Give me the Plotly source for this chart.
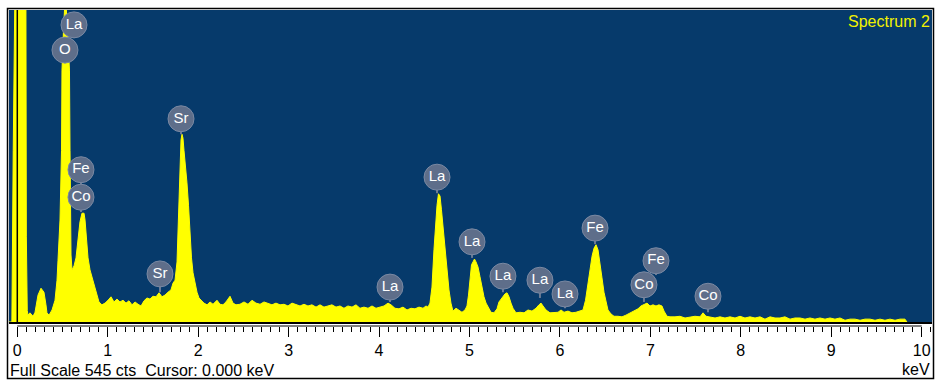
import plotly.graph_objects as go

# ---------------- data ----------------
energy_kev = [
    -0.092, -0.060, -0.045, -0.025, 0.095, 0.100, 0.110, 0.118, 0.140, 0.174,
    0.196, 0.229, 0.262, 0.295, 0.317, 0.328, 0.351, 0.384, 0.417, 0.439,
    0.450, 0.472, 0.489, 0.494, 0.511, 0.527, 0.538, 0.555, 0.577, 0.583,
    0.588, 0.594, 0.605, 0.627, 0.649, 0.671, 0.693, 0.715, 0.738, 0.749,
    0.760, 0.782, 0.804, 0.837, 0.870, 0.903, 0.936, 0.970, 1.003, 1.036,
    1.069, 1.102, 1.135, 1.169, 1.202, 1.235, 1.268, 1.302, 1.335, 1.368,
    1.401, 1.434, 1.467, 1.500, 1.534, 1.567, 1.600, 1.633, 1.666, 1.699,
    1.722, 1.744, 1.766, 1.777, 1.788, 1.799, 1.810, 1.821, 1.832, 1.843,
    1.860, 1.876, 1.893, 1.910, 1.926, 1.943, 1.965, 1.987, 2.009, 2.031,
    2.064, 2.098, 2.131, 2.164, 2.208, 2.241, 2.274, 2.307, 2.352, 2.385,
    2.418, 2.462, 2.507, 2.551, 2.595, 2.639, 2.684, 2.728, 2.772, 2.816,
    2.860, 2.905, 2.949, 2.993, 3.037, 3.081, 3.126, 3.170, 3.214, 3.258,
    3.303, 3.347, 3.391, 3.435, 3.479, 3.524, 3.568, 3.612, 3.656, 3.701,
    3.745, 3.789, 3.833, 3.878, 3.922, 3.966, 4.010, 4.055, 4.099, 4.132,
    4.176, 4.220, 4.265, 4.309, 4.353, 4.397, 4.442, 4.486, 4.519, 4.541,
    4.563, 4.585, 4.607, 4.624, 4.641, 4.657, 4.674, 4.690, 4.707, 4.729,
    4.751, 4.773, 4.795, 4.817, 4.851, 4.884, 4.917, 4.950, 4.972, 4.989,
    5.006, 5.022, 5.039, 5.055, 5.072, 5.094, 5.116, 5.138, 5.160, 5.183,
    5.205, 5.238, 5.271, 5.304, 5.326, 5.359, 5.392, 5.415, 5.437, 5.459,
    5.481, 5.514, 5.558, 5.603, 5.647, 5.691, 5.735, 5.768, 5.791, 5.813,
    5.846, 5.890, 5.934, 5.979, 6.012, 6.045, 6.089, 6.133, 6.177, 6.222,
    6.255, 6.283, 6.310, 6.332, 6.355, 6.377, 6.399, 6.421, 6.443, 6.465,
    6.487, 6.509, 6.531, 6.565, 6.598, 6.642, 6.686, 6.730, 6.775, 6.819,
    6.863, 6.896, 6.929, 6.963, 6.996, 7.029, 7.062, 7.095, 7.128, 7.151,
    7.184, 7.217, 7.272, 7.327, 7.383, 7.438, 7.493, 7.549, 7.582, 7.615,
    7.659, 7.715, 7.770, 7.825, 7.880, 7.936, 7.991, 8.046, 8.101, 8.157,
    8.212, 8.267, 8.323, 8.378, 8.433, 8.488, 8.544, 8.599, 8.654, 8.710,
    8.765, 8.820, 8.875, 8.931, 8.986, 9.041, 9.097, 9.152, 9.207, 9.262,
    9.318, 9.373, 9.428, 9.484, 9.539, 9.594, 9.649, 9.705, 9.760, 9.815,
    9.837,
]
counts = [
    0, 0, 300, 600, 600, 150, 20, 12, 16, 10,
    17, 47, 59, 52, 30, 16, 12, 21, 38, 73,
    108, 178, 300, 440, 510, 560, 560, 510, 440, 300,
    178, 117, 91, 98, 112, 143, 175, 190, 190, 178,
    152, 112, 91, 73, 52, 35, 30, 33, 38, 44,
    35, 40, 35, 38, 33, 37, 30, 35, 31, 28,
    37, 42, 40, 45, 44, 51, 44, 47, 52, 56,
    68, 73, 105, 155, 222, 278, 318, 328, 321, 300,
    274, 243, 204, 143, 112, 86, 65, 52, 42, 38,
    33, 30, 35, 31, 38, 31, 30, 35, 45, 33,
    30, 31, 35, 31, 38, 33, 31, 35, 33, 30,
    33, 30, 31, 28, 33, 30, 28, 31, 28, 30,
    26, 30, 26, 28, 30, 26, 28, 24, 28, 26,
    30, 24, 26, 24, 28, 24, 26, 28, 33, 30,
    24, 23, 26, 21, 24, 23, 26, 24, 28, 26,
    33, 61, 126, 169, 204, 224, 220, 196, 166, 126,
    91, 56, 33, 19, 24, 21, 17, 21, 28, 47,
    77, 100, 105, 110, 105, 96, 79, 61, 44, 33,
    26, 17, 16, 23, 35, 42, 49, 51, 44, 33,
    24, 16, 17, 16, 21, 19, 24, 30, 33, 28,
    21, 16, 17, 17, 21, 17, 19, 16, 17, 19,
    21, 38, 65, 94, 115, 129, 135, 126, 105, 77,
    52, 33, 21, 14, 10, 10, 9, 12, 16, 19,
    23, 28, 30, 33, 28, 30, 28, 30, 28, 19,
    10, 9, 9, 10, 7, 9, 10, 9, 16, 10,
    9, 7, 9, 7, 9, 7, 10, 7, 9, 7,
    9, 5, 9, 7, 7, 9, 5, 7, 7, 5,
    7, 5, 7, 5, 7, 5, 7, 3, 5, 5,
    3, 5, 5, 3, 5, 3, 5, 3, 5, 5,
    0,
]

tick_values = [0, 1, 2, 3, 4, 5, 6, 7, 8, 9, 10]
tick_labels = ["0", "1", "2", "3", "4", "5", "6", "7", "8", "9", "10"]

label_names = ["La", "O", "Fe", "Co", "Sr", "Sr", "La", "La", "La", "La",
               "La", "La", "Fe", "Co", "Fe", "Co"]
label_kev = [0.627, 0.527, 0.704, 0.704, 1.810, 1.578, 4.121, 4.641, 5.028, 5.370,
             5.779, 6.056, 6.388, 6.929, 7.062, 7.637]
label_cts = [519, 475, 266, 218, 355, 84, 61, 253, 140, 80,
             73, 49, 164, 65, 107, 45]
stem_cts = [496, 452, 239, 192, 328, 52, 35, 225, 112, 52,
            42, 24, 136, 35, 82, 17]

full_scale_cts = 545
spectrum_name = "Spectrum 2"
status_text = "Full Scale 545 cts  Cursor: 0.000 keV"
unit_text = "keV"

# ---------------- layout geometry ----------------
W, H = 935, 382
ML, MR, MT, MB = 9, 3, 10, 56
PW, PH = W - ML - MR, H - MT - MB
PX_PER_KEV = 90.44
X0_PX = 17.3
x_range = [(ML - X0_PX) / PX_PER_KEV, (W - MR - X0_PX) / PX_PER_KEV]
cts_per_px = full_scale_cts / 312.0
y_range = [-4 * cts_per_px, full_scale_cts]


def py(p):  # pixel row -> paper y
    return (H - MB - p) / PH


def px(p):  # pixel col -> paper x
    return (p - ML) / PW


BLUE = "#063a6b"
YELLOW = "#ffff00"
LABEL_FILL = "#5e6e8a"
FONT = "Liberation Sans, Arial, sans-serif"

fig = go.Figure()

fig.add_trace(go.Scatter(
    x=energy_kev, y=counts, mode="lines",
    line=dict(color=YELLOW, width=1), fill="tozeroy", fillcolor=YELLOW,
    hoverinfo="skip", showlegend=False))

stem_x, stem_y = [], []
for e, top, bot in zip(label_kev, label_cts, stem_cts):
    stem_x += [e, e, None]
    stem_y += [top, bot, None]
fig.add_trace(go.Scatter(
    x=stem_x, y=stem_y, mode="lines", line=dict(color="#6a7a94", width=2),
    hoverinfo="skip", showlegend=False))

fig.add_trace(go.Scatter(
    x=label_kev, y=label_cts, mode="markers+text", text=label_names,
    textposition="middle center",
    textfont=dict(family=FONT, size=15, color="white"),
    marker=dict(size=26, color=LABEL_FILL, line=dict(color="#7a89a3", width=1)),
    hoverinfo="skip", showlegend=False, cliponaxis=False))

shapes = [
    dict(type="rect", xref="paper", yref="paper", x0=0, x1=1, y0=py(322), y1=1,
         fillcolor=BLUE, line=dict(width=0), layer="below"),
    dict(type="line", xref="x", yref="paper", x0=0, x1=0, y0=py(322), y1=1,
         line=dict(color="black", width=1.5), layer="above"),
    dict(type="line", xref="paper", yref="paper", x0=0, x1=1, y0=py(323), y1=py(323),
         line=dict(color="black", width=2), layer="above"),
    dict(type="line", xref="x", yref="paper", x0=0, x1=10, y0=0, y1=0,
         line=dict(color="black", width=1), layer="above"),
    dict(type="rect", xref="paper", yref="paper", x0=px(7.5), x1=px(933.5),
         y0=py(378.5), y1=py(8.5), line=dict(color="black", width=1.5),
         fillcolor="rgba(0,0,0,0)", layer="above"),
]

annotations = [
    dict(text=spectrum_name, xref="paper", yref="paper", x=px(932), y=py(22),
         xanchor="right", yanchor="middle", showarrow=False,
         font=dict(family=FONT, size=16, color="#f2f200")),
    dict(text=status_text, xref="paper", yref="paper", x=px(8), y=py(370),
         xanchor="left", yanchor="middle", showarrow=False,
         font=dict(family=FONT, size=16, color="black")),
    dict(text=unit_text, xref="paper", yref="paper", x=px(932), y=py(369),
         xanchor="right", yanchor="middle", showarrow=False,
         font=dict(family=FONT, size=16, color="black")),
]

fig.update_layout(
    width=W, height=H,
    margin=dict(l=ML, r=MR, t=MT, b=MB, pad=0),
    paper_bgcolor="white", plot_bgcolor="white",
    shapes=shapes, annotations=annotations, showlegend=False,
    xaxis=dict(range=x_range, tickvals=tick_values, ticktext=tick_labels,
               ticks="outside", ticklen=10, tickwidth=1, tickcolor="black",
               minor=dict(dtick=0.1, tick0=0, ticks="outside", ticklen=5,
                          tickwidth=1, tickcolor="black", showgrid=False),
               showgrid=False, zeroline=False, showline=False,
               tickfont=dict(family=FONT, size=16, color="black"),
               fixedrange=True),
    yaxis=dict(range=y_range, visible=False, showgrid=False, zeroline=False,
               fixedrange=True),
)

fig.write_html(
    "out.html",
    config={"displayModeBar": False},
    post_script="document.body.style.margin='0';document.body.style.overflow='hidden';",
)
